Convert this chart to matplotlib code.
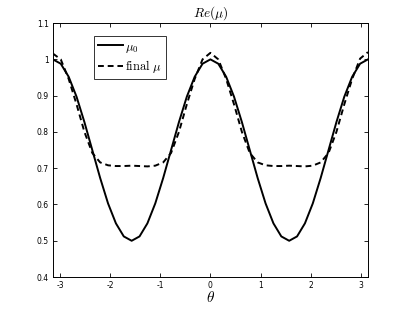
import numpy as np
import matplotlib
matplotlib.use('Agg')
import matplotlib.pyplot as plt

# sample points in theta (step pi/20)
theta = [-3.142, -2.985, -2.827, -2.670, -2.513, -2.356, -2.199, -2.042, -1.885, -1.728,
         -1.571, -1.414, -1.257, -1.100, -0.942, -0.785, -0.628, -0.471, -0.314, -0.157,
         0.000, 0.157, 0.314, 0.471, 0.628, 0.785, 0.942, 1.100, 1.257, 1.414,
         1.571, 1.728, 1.885, 2.042, 2.199, 2.356, 2.513, 2.670, 2.827, 2.985, 3.142]

mu0 = [1.000, 0.988, 0.952, 0.897, 0.827, 0.750, 0.673, 0.603, 0.548, 0.512,
       0.500, 0.512, 0.548, 0.603, 0.673, 0.750, 0.827, 0.897, 0.952, 0.988,
       1.000, 0.988, 0.952, 0.897, 0.827, 0.750, 0.673, 0.603, 0.548, 0.512,
       0.500, 0.512, 0.548, 0.603, 0.673, 0.750, 0.827, 0.897, 0.952, 0.988, 1.000]

mu_final = [1.016, 1.000, 0.946, 0.876, 0.800, 0.742, 0.716, 0.708, 0.706, 0.706,
            0.707, 0.706, 0.705, 0.707, 0.716, 0.742, 0.800, 0.876, 0.946, 1.000,
            1.018, 1.000, 0.946, 0.876, 0.800, 0.742, 0.716, 0.708, 0.706, 0.706,
            0.707, 0.706, 0.705, 0.707, 0.716, 0.742, 0.800, 0.876, 0.946, 1.002, 1.020]

xticks = [-3, -2, -1, 0, 1, 2, 3]
yticks = [0.4, 0.5, 0.6, 0.7, 0.8, 0.9, 1.0, 1.1]
ytick_labels = ['0.4', '0.5', '0.6', '0.7', '0.8', '0.9', '1', '1.1']

plt.rcParams['mathtext.fontset'] = 'cm'

fig = plt.figure(figsize=(4.07, 3.12), dpi=100)
ax = fig.add_axes([0.13, 0.112, 0.774, 0.814])

ax.plot(theta, mu0, color='black', lw=1.4, label=r'$\mu_0$')
ax.plot(theta, mu_final, color='black', lw=1.4, ls=(0, (3, 2)), label=r'$\mathrm{final}\ \mu$')

ax.set_xlim(-np.pi, np.pi)
ax.set_ylim(0.4, 1.1)
ax.set_xticks(xticks)
ax.set_xticklabels([str(t) for t in xticks])
ax.set_yticks(yticks)
ax.set_yticklabels(ytick_labels)
ax.tick_params(direction='in', length=3, width=0.6, labelsize=5.5,
               top=True, right=True, pad=3)
for s in ax.spines.values():
    s.set_linewidth(0.7)

ax.set_title(r'$Re(\mu)$', fontsize=9.5, pad=5)
ax.set_xlabel(r'$\theta$', fontsize=11, labelpad=-0.5)

leg = ax.legend(loc='upper left', bbox_to_anchor=(0.13, 0.95), fontsize=9,
                frameon=True, fancybox=False, edgecolor='black',
                handlelength=2.0, handletextpad=0.2, borderpad=0.3,
                labelspacing=0.3, borderaxespad=0)
leg.get_frame().set_linewidth(0.7)

fig.savefig('out.png', dpi=100)
